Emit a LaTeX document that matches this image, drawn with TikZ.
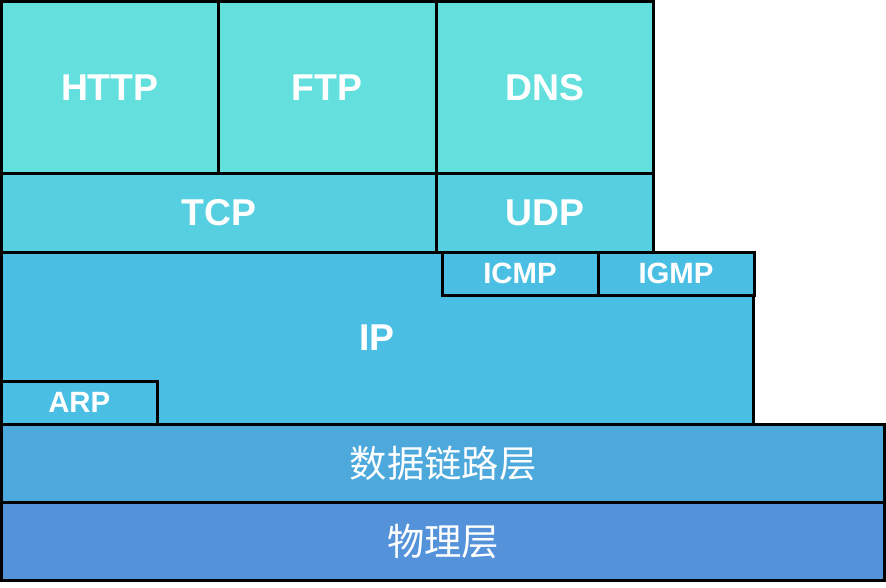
\documentclass[tikz,border=0pt]{standalone}
\usepackage{fontspec}
\setmainfont{Liberation Sans}
\newfontfamily\cjk{Noto Sans CJK SC}
\definecolor{appc}{RGB}{99,224,222}
\definecolor{tranc}{RGB}{86,207,224}
\definecolor{netc}{RGB}{74,191,227}
\definecolor{linkc}{RGB}{77,168,220}
\definecolor{phyc}{RGB}{84,146,217}
\tikzset{
  layer/.style={draw=black,line width=2.25pt},
  biglbl/.style={text=white,font=\fontsize{28}{28}\selectfont\bfseries},
  smalllbl/.style={text=white,font=\fontsize{22}{22}\selectfont\bfseries},
  cnlbl/.style={text=white,font=\fontsize{28}{28}\selectfont\cjk}
}
\begin{document}
\begin{tikzpicture}[x=0.75pt,y=-0.75pt,line join=miter]
		\useasboundingbox (0,0) rectangle (886,587);
		% application layer
		\draw[layer,fill=appc] (1.5,1.5) rectangle (218,173) node[midway,biglbl]{HTTP};
		\draw[layer,fill=appc] (218,1.5) rectangle (436,173) node[midway,biglbl]{FTP};
		\draw[layer,fill=appc] (436,1.5) rectangle (653,173) node[midway,biglbl]{DNS};
		% transport layer
		\draw[layer,fill=tranc] (1.5,173) rectangle (436,252) node[midway,biglbl]{TCP};
		\draw[layer,fill=tranc] (436,173) rectangle (653,252) node[midway,biglbl]{UDP};
		% network layer
		\draw[layer,fill=netc] (1.5,252) rectangle (753,424) node[midway,biglbl]{IP};
		\draw[layer,fill=netc] (442,252) rectangle (598,295) node[midway,smalllbl]{ICMP};
		\draw[layer,fill=netc] (598,252) rectangle (754,295) node[midway,smalllbl]{IGMP};
		\draw[layer,fill=netc] (1.5,381) rectangle (157,424) node[midway,smalllbl]{ARP};
		% link and physical layer
		\draw[layer,fill=linkc] (1.5,424) rectangle (884.5,502) node[midway,cnlbl]{数据链路层};
		\draw[layer,fill=phyc] (1.5,502) rectangle (884.5,580) node[midway,cnlbl]{物理层};
\end{tikzpicture}
\end{document}
